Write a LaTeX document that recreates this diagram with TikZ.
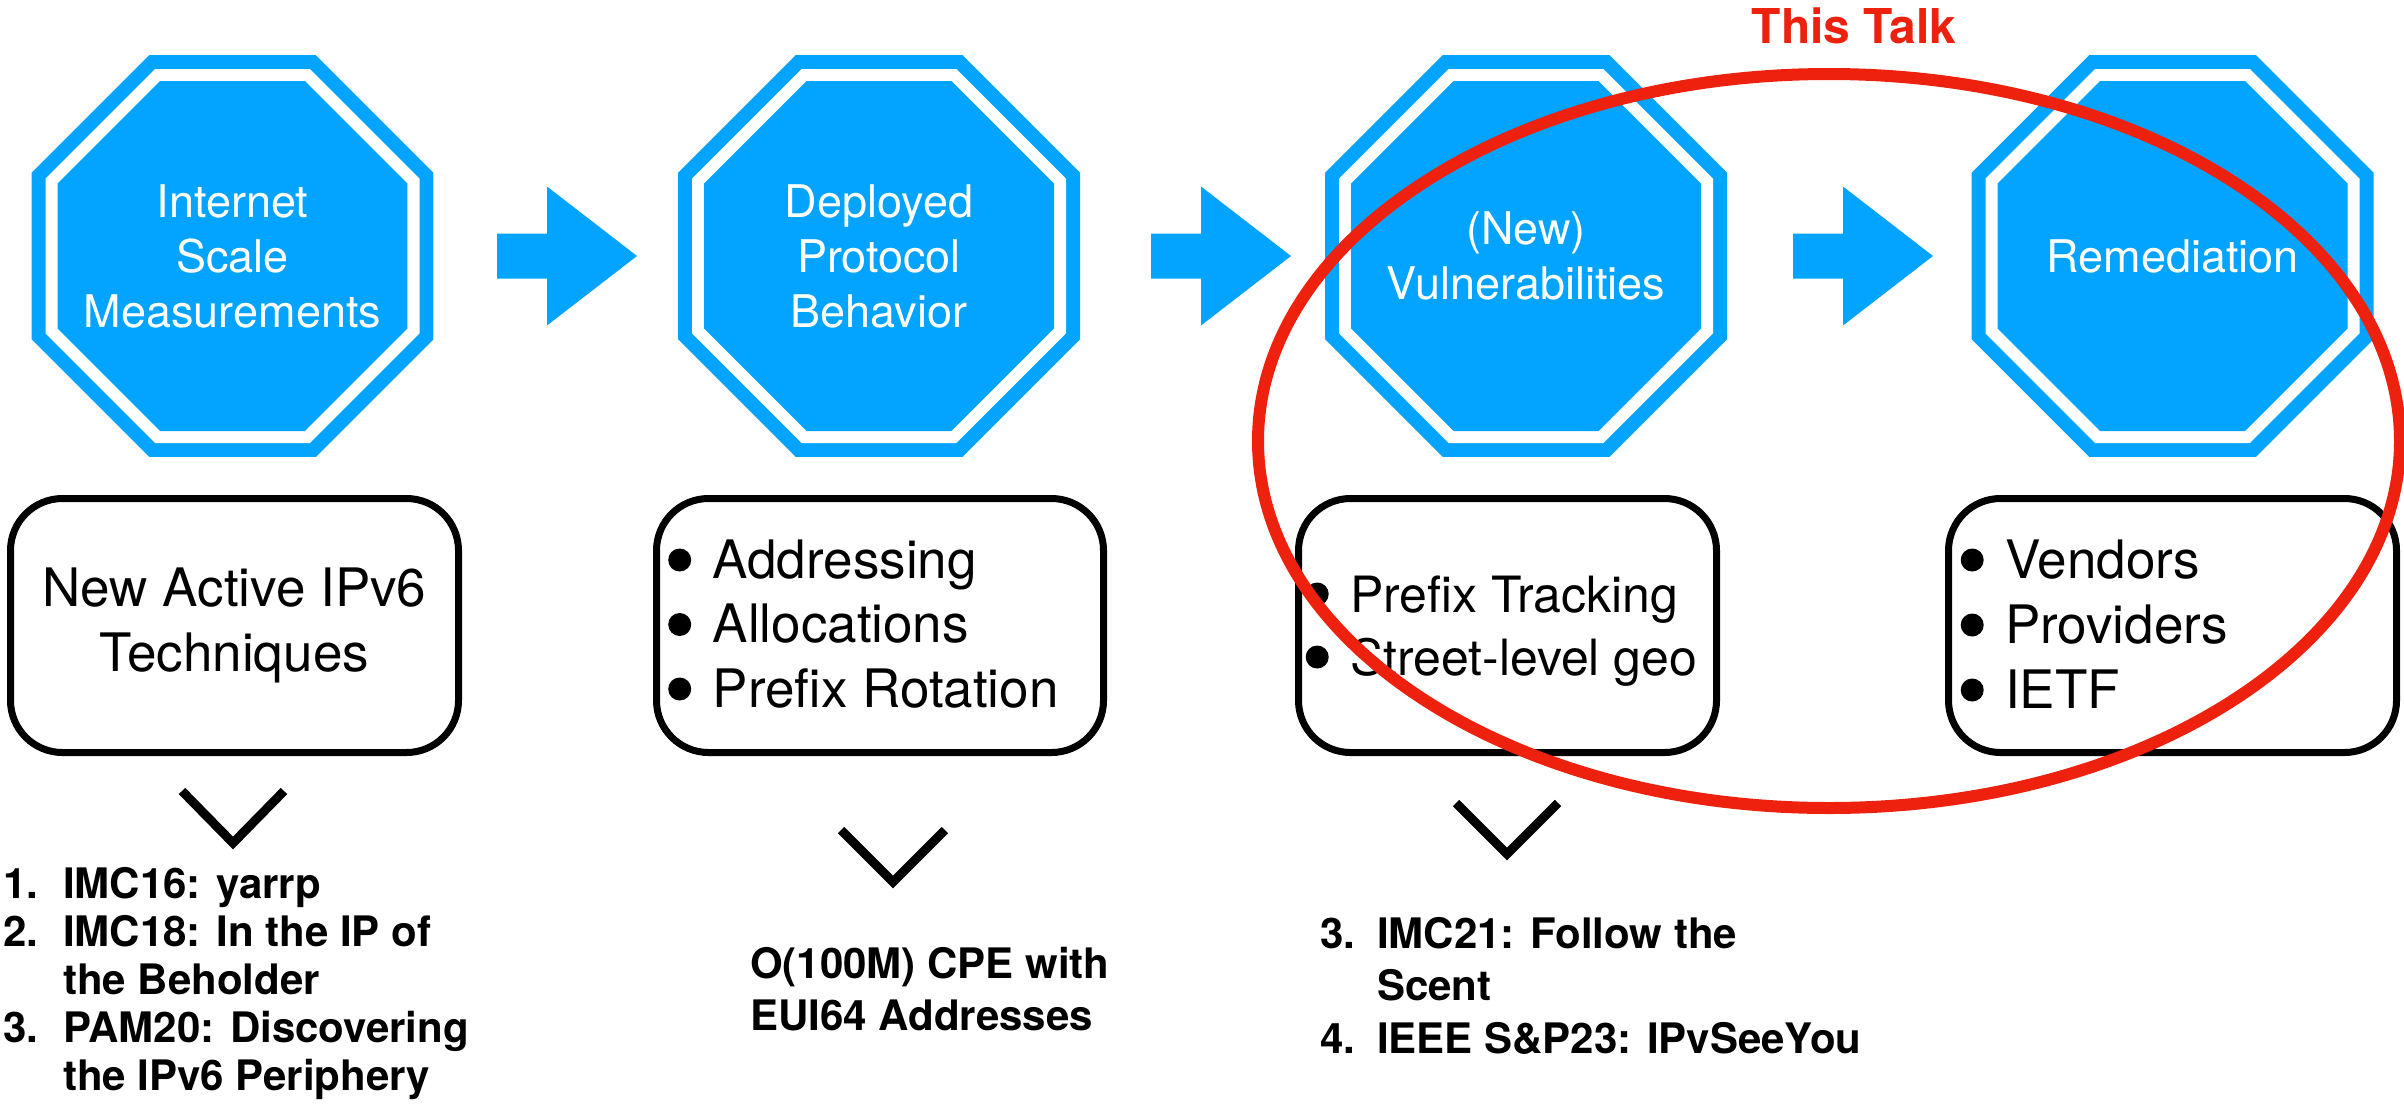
\documentclass[tikz,border=0pt]{standalone}
\usepackage{fontspec}
\setmainfont{TeX Gyre Heros}
\usetikzlibrary{calc}
\definecolor{kblue}{RGB}{2,164,255}
\definecolor{kred}{RGB}{237,33,14}
\newcommand\blt{\makebox[44.5pt][l]{\tikz[x=1pt,y=1pt,baseline=-18pt]\fill[black] (11.5,0) circle[radius=11.5];}}
\newcommand\octpath[1]{(22.5:#1) -- (67.5:#1) -- (112.5:#1) -- (157.5:#1) -- (202.5:#1) -- (247.5:#1) -- (292.5:#1) -- (337.5:#1) -- cycle}
\begin{document}
\begin{tikzpicture}[x=1pt,y=-1pt,
  octtext/.style={text=white, align=center, inner sep=0pt, font=\fontsize{45}{55}\selectfont},
  rbox/.style={draw=black, line width=7pt, rounded corners=52pt, inner sep=0pt},
  listtext/.style={anchor=base west, inner sep=0pt},
  chev/.style={draw=black, line width=9pt, miter limit=10},
  barrow/.pic={\fill[kblue] (0,-22.5) -- (50,-22.5) -- (50,-69.5) -- (140,0) -- (50,69.5) -- (50,22.5) -- (0,22.5) -- cycle;}
]
\useasboundingbox (0,0) rectangle (2404,1114);

% octagons
\foreach \cx in {232.5,879,1526,2172.5}{
  \begin{scope}[shift={(\cx,256)}]
    \fill[kblue] \octpath{217.56};
    \fill[white] \octpath{202.41};
    \fill[kblue] \octpath{189.42};
  \end{scope}
}
\node[octtext] (o1) at (232.5,256) {Internet\\Scale\\Measurements};
\node[octtext] (o2) at (879,256) {Deployed\\Protocol\\Behavior};
\node[octtext] (o3) at (1526,256) {(New)\\Vulnerabilities};
\node[octtext] (o4) at (2172.5,256) {Remediation};

% block arrows
\pic at (497,256) {barrow};
\pic at (1151,256) {barrow};
\pic at (1793,256) {barrow};

% boxes
\node[rbox, minimum width=448pt, minimum height=254pt, align=center,
      font=\fontsize{53}{65}\selectfont] (b1) at (234.5,625.5) {New Active IPv6\\Techniques};
\node[rbox, minimum width=447pt, minimum height=254pt] (b2) at (880,625.5) {};
\node[rbox, minimum width=418pt, minimum height=254pt] (b3) at (1507.5,625.5) {};
\node[rbox, minimum width=448pt, minimum height=254pt] (b4) at (2172.5,625.5) {};

\node[listtext, font=\fontsize{53}{64.5}\selectfont] (t2) at (668,578)
  {\begin{tabular}[t]{@{}l@{}}\blt Addressing\\\blt Allocations\\\blt Prefix Rotation\end{tabular}};
\node[listtext, font=\fontsize{50}{63}\selectfont] (t3) at (1305.5,612)
  {\begin{tabular}[t]{@{}l@{}}\blt Prefix Tracking\\\blt Street-level geo\end{tabular}};
\node[listtext, font=\fontsize{53}{65}\selectfont] (t4) at (1960.5,578)
  {\begin{tabular}[t]{@{}l@{}}\blt Vendors\\\blt Providers\\\blt IETF\end{tabular}};

% chevrons
\coordinate (c1) at (233,843);
\coordinate (c2) at (893,882);
\coordinate (c3) at (1507,854);
\draw[chev] (c1) ++(-51,-52) -- (c1) -- ++(51,-52);
\draw[chev] (c2) ++(-52,-52) -- (c2) -- ++(52,-52);
\draw[chev] (c3) ++(-51,-51) -- (c3) -- ++(51,-51);

% lists below
\node[listtext, font=\bfseries\fontsize{42}{48}\selectfont] (l1) at (3,898)
  {\begin{tabular}[t]{@{}l@{}l@{}}\makebox[60pt][l]{1.}&IMC16: yarrp\\
   \makebox[60pt][l]{2.}&IMC18: In the IP of\\ &the Beholder\\
   \makebox[60pt][l]{3.}&PAM20: Discovering\\ &the IPv6 Periphery\end{tabular}};
\node[listtext, font=\bfseries\fontsize{42}{52}\selectfont] (l2) at (750,978)
  {\begin{tabular}[t]{@{}l@{}}O(100M) CPE with\\EUI64 Addresses\end{tabular}};
\node[listtext, font=\bfseries\fontsize{42}{52.5}\selectfont] (l3) at (1320,948)
  {\begin{tabular}[t]{@{}l@{}l@{}}\makebox[57pt][l]{3.}&IMC21: Follow the\\ &Scent\\
   \makebox[57pt][l]{4.}&IEEE S\&P23: IPvSeeYou\end{tabular}};

% this talk
\node[anchor=base, inner sep=0pt, text=kred, font=\bfseries\fontsize{48}{58}\selectfont] (talk) at (1854,43) {This Talk};
\coordinate (tc) at (1829,441);
\draw[kred, line width=12pt] (tc) ellipse [x radius=571, y radius=367];
\end{tikzpicture}
\end{document}
